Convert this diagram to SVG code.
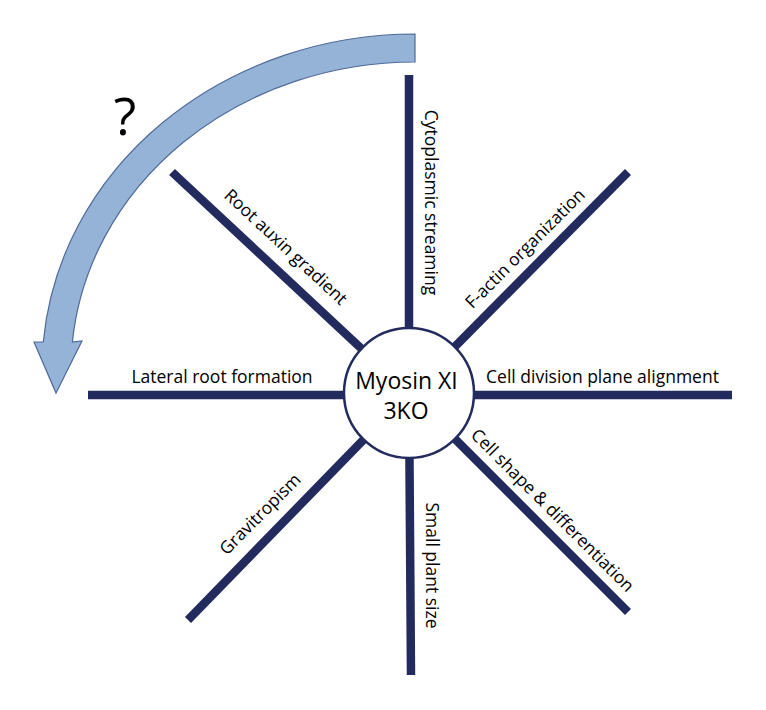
<svg xmlns="http://www.w3.org/2000/svg" width="766" height="710" viewBox="0 0 766 710">
  <style>
    .spoke { stroke: #222a5e; stroke-width: 8.5; stroke-linecap: butt; fill: none; }
    .lbl { font-family: "Open Sans", "Noto Sans", sans-serif; font-size: 17.5px; fill: #000; text-anchor: middle; }
    .center { font-family: "Open Sans", "Noto Sans", sans-serif; font-size: 23px; fill: #000; text-anchor: middle; }
  </style>
  <rect width="766" height="710" fill="#ffffff"/>

  <g id="curved-arrow">
    <path d="M415,34 A373,336 0 0 0 43.3,342 L34,342 L56,393 L82,341 L72.4,342 A344,308 0 0 1 415,62 Z" fill="#95b3d7" stroke="#4f6a9a" stroke-width="1.2" stroke-linejoin="miter"/>
    <text x="125" y="135" font-family="'Open Sans', 'Noto Sans', sans-serif" font-size="52" text-anchor="middle" fill="#000">?</text>
  </g>

  <g id="connectors">
    <line class="spoke" x1="409" y1="75" x2="409" y2="393"/>
    <line class="spoke" x1="411" y1="675" x2="409" y2="393"/>
    <line class="spoke" x1="88" y1="395" x2="409" y2="395"/>
    <line class="spoke" x1="732" y1="395" x2="409" y2="395"/>
    <line class="spoke" x1="172" y1="172" x2="409" y2="393"/>
    <line class="spoke" x1="628" y1="172" x2="409" y2="393"/>
    <line class="spoke" x1="628" y1="612" x2="409" y2="393"/>
    <line class="spoke" x1="188" y1="620" x2="409" y2="393"/>
  </g>

  <g id="hub">
    <circle cx="409" cy="393" r="65" fill="#ffffff" stroke="#222a5e" stroke-width="2.5"/>
    <text class="center" x="406.5" y="389">Myosin XI</text>
    <text class="center" x="406" y="419">3KO</text>
  </g>

  <g id="label-cytoplasmic">
    <text class="lbl" transform="translate(424.5,202.5) rotate(90)">Cytoplasmic streaming</text>
  </g>
  <g id="label-factin">
    <text class="lbl" transform="translate(529.3,252.6) rotate(-45)">F-actin organization</text>
  </g>
  <g id="label-celldivision">
    <text class="lbl" x="602.5" y="383">Cell division plane alignment</text>
  </g>
  <g id="label-cellshape">
    <text class="lbl" transform="translate(548.4,514.6) rotate(45)">Cell shape &amp; differentiation</text>
  </g>
  <g id="label-smallplant">
    <text class="lbl" transform="translate(425.5,565.5) rotate(90)">Small plant size</text>
  </g>
  <g id="label-gravitropism">
    <text class="lbl" transform="translate(264.3,518.3) rotate(-45)">Gravitropism</text>
  </g>
  <g id="label-lateral">
    <text class="lbl" x="222" y="383">Lateral root formation</text>
  </g>
  <g id="label-auxin">
    <text class="lbl" transform="translate(281.7,251.3) rotate(43)">Root auxin gradient</text>
  </g>
</svg>
